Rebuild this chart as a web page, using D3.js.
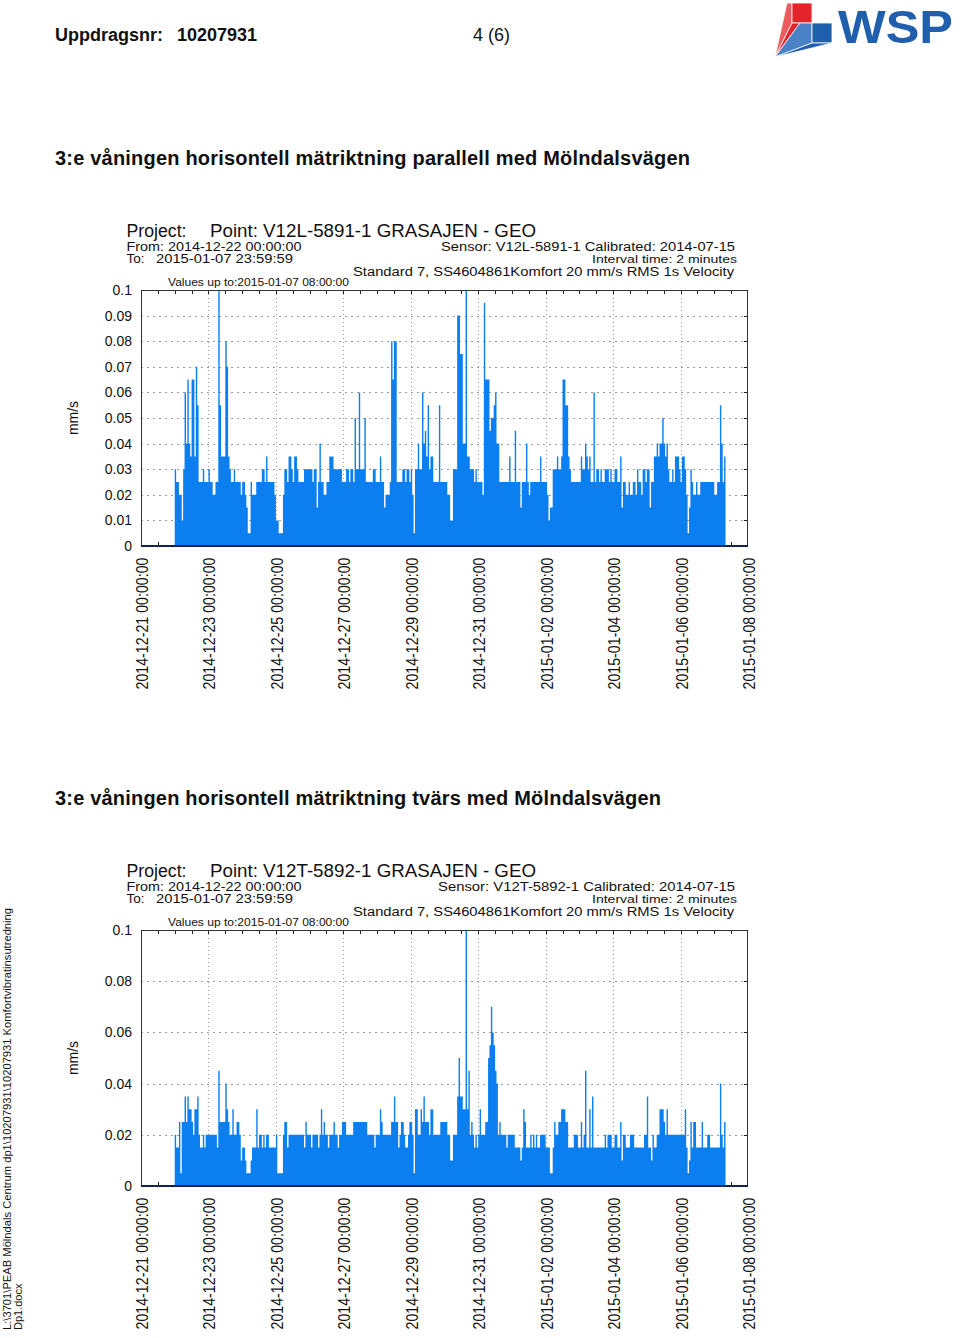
<!DOCTYPE html>
<html><head><meta charset="utf-8">
<script src="https://cdn.jsdelivr.net/npm/d3@7"></script>
<style>
body{margin:0;background:#fff}
svg text{font-family:"Liberation Sans",Arial,sans-serif;fill:#111}
</style>
</head><body>
<svg id="page" width="960" height="1338"></svg>
<script>
// ---------- data ----------
const tickDates = ["2014-12-21","2014-12-23","2014-12-25","2014-12-27","2014-12-29","2014-12-31","2015-01-02","2015-01-04","2015-01-06","2015-01-08"];
const yTicks1 = [0,0.01,0.02,0.03,0.04,0.05,0.06,0.07,0.08,0.09,0.1];
const yTickLabels1 = ["0","0.01","0.02","0.03","0.04","0.05","0.06","0.07","0.08","0.09","0.1"];
const yTicks2 = [0,0.02,0.04,0.06,0.08,0.1];
const yTickLabels2 = ["0","0.02","0.04","0.06","0.08","0.1"];
const dataStart = "2014-12-22T00:00:00Z"; // hourly maxima, mm/s

const velParallel = [
.03,.025,.025,.02,.02,.01,.03,.06,.04,.065,
.04,.035,.065,.065,.035,.07,.055,.025,.025,.025,
.03,.025,.025,.025,.03,.025,.025,.02,.02,.025,
.025,.1,.055,.035,.035,.035,.08,.07,.035,.03,
.025,.025,.03,.025,.025,.025,.025,.02,.025,.025,
.02,.015,.005,.005,.025,.02,.02,.02,.025,.025,
.025,.025,.03,.03,.025,.035,.025,.025,.025,.025,
.025,.02,.01,.01,.005,.005,.005,.02,.03,.03,
.025,.035,.035,.03,.025,.035,.035,.03,.025,.025,
.025,.025,.03,.03,.03,.03,.03,.03,.025,.03,
.03,.015,.025,.04,.025,.025,.02,.02,.025,.025,
.035,.035,.035,.03,.03,.03,.03,.03,.03,.025,
.025,.025,.03,.03,.025,.03,.03,.025,.05,.03,
.03,.06,.03,.03,.03,.05,.025,.025,.025,.025,
.025,.03,.03,.025,.025,.025,.035,.025,.025,.015,
.02,.02,.02,.025,.08,.065,.08,.08,.025,.025,
.025,.025,.03,.03,.025,.03,.03,.025,.03,.02,
.005,.03,.03,.04,.03,.03,.06,.04,.045,.035,
.055,.03,.035,.035,.025,.025,.025,.025,.055,.025,
.025,.025,.025,.025,.02,.02,.01,.01,.03,.03,
.03,.09,.09,.075,.075,.04,.04,.1,.035,.035,
.03,.03,.03,.025,.03,.025,.025,.025,.025,.02,
.095,.065,.065,.065,.045,.05,.05,.055,.06,.04,
.04,.025,.025,.025,.025,.025,.025,.025,.035,.025,
.025,.025,.045,.025,.025,.025,.015,.025,.025,.025,
.04,.025,.02,.025,.025,.025,.025,.025,.025,.025,
.035,.025,.025,.025,.025,.02,.01,.015,.015,.03,
.03,.03,.035,.03,.03,.035,.065,.065,.055,.055,
.035,.03,.025,.025,.025,.025,.025,.025,.025,.035,
.03,.03,.04,.035,.03,.035,.025,.025,.06,.025,
.03,.03,.025,.03,.025,.025,.03,.03,.03,.025,
.03,.025,.025,.03,.03,.025,.025,.035,.015,.025,
.025,.02,.02,.025,.02,.02,.025,.025,.02,.03,
.025,.025,.02,.03,.03,.025,.03,.03,.015,.025,
.025,.035,.035,.04,.035,.04,.04,.05,.04,.035,
.04,.03,.025,.025,.03,.025,.035,.035,.035,.03,
.025,.035,.035,.03,.02,.005,.015,.03,.025,.02,
.02,.025,.02,.02,.025,.025,.025,.025,.025,.025,
.025,.025,.025,.025,.02,.02,.025,.025,.055,.04,
.025,.035];

const velTransverse = [
.02,.015,.015,.025,.005,.025,.025,.035,.025,.035,
.03,.03,.025,.02,.03,.03,.035,.02,.015,.015,
.02,.015,.02,.02,.02,.02,.02,.02,.02,.02,
.015,.045,.025,.025,.025,.025,.04,.03,.025,.02,
.02,.03,.02,.02,.025,.025,.02,.01,.015,.015,
.01,.005,.005,.005,.01,.015,.015,.015,.03,.015,
.02,.02,.015,.02,.015,.02,.02,.015,.015,.015,
.015,.015,.02,.005,.005,.005,.005,.02,.025,.025,
.015,.02,.02,.02,.02,.02,.02,.02,.02,.02,
.02,.02,.015,.025,.02,.02,.02,.015,.02,.02,
.02,.02,.015,.02,.03,.02,.025,.02,.02,.015,
.02,.02,.02,.025,.02,.02,.015,.02,.02,.025,
.025,.025,.02,.02,.02,.02,.02,.025,.025,.025,
.025,.025,.025,.025,.025,.025,.025,.02,.02,.02,
.02,.02,.015,.02,.02,.02,.03,.025,.02,.02,
.02,.02,.02,.02,.025,.025,.035,.025,.025,.015,
.02,.025,.025,.02,.015,.015,.02,.025,.025,.02,
.005,.03,.03,.02,.02,.03,.025,.035,.025,.025,
.025,.02,.03,.03,.02,.02,.02,.02,.02,.025,
.025,.025,.025,.025,.02,.02,.01,.01,.02,.02,
.02,.035,.05,.035,.035,.03,.03,.1,.03,.045,
.02,.025,.02,.015,.02,.015,.02,.03,.02,.02,
.02,.025,.025,.05,.055,.07,.06,.055,.045,.04,
.02,.025,.02,.02,.02,.02,.015,.02,.02,.02,
.02,.02,.015,.015,.015,.015,.01,.015,.03,.025,
.015,.015,.015,.02,.015,.02,.015,.02,.015,.015,
.02,.02,.02,.02,.015,.015,.015,.005,.005,.015,
.025,.02,.02,.025,.025,.03,.03,.03,.025,.025,
.015,.015,.015,.015,.02,.02,.02,.015,.015,.025,
.015,.02,.045,.015,.015,.03,.015,.035,.015,.015,
.015,.015,.015,.015,.015,.015,.02,.015,.02,.02,
.02,.015,.015,.02,.02,.015,.015,.025,.01,.02,
.02,.015,.015,.015,.02,.02,.02,.015,.015,.015,
.015,.015,.015,.015,.02,.02,.035,.015,.015,.01,
.02,.015,.015,.02,.02,.03,.03,.03,.025,.02,
.03,.02,.02,.02,.02,.02,.02,.02,.02,.02,
.02,.02,.02,.03,.015,.005,.01,.025,.015,.025,
.025,.015,.015,.015,.015,.025,.015,.015,.015,.02,
.02,.015,.015,.015,.015,.015,.015,.015,.04,.02,
.015,.025];

// ---------- page ----------
const svg = d3.select("#page");
svg.append("rect").attr("width",960).attr("height",1338).attr("fill","#fff");

// header
svg.append("text").attr("x",55).attr("y",41).attr("font-size",18).attr("font-weight","bold").text("Uppdragsnr:");
svg.append("text").attr("x",177).attr("y",41).attr("font-size",18).attr("font-weight","bold").text("10207931");
svg.append("text").attr("x",473).attr("y",41).attr("font-size",18).text("4 (6)");

// WSP logo
const logo = svg.append("g");
const red = "#e3242b", red2 = "#ee5a5e", blue = "#1f5fae", blue2 = "#4a82c8";
[
  {p:[[775,57],[787,3],[792,3],[792,23]], c:red2},
  {p:[[792,3],[812,3],[812,23],[792,23]], c:red},
  {p:[[775,57],[792,23],[800,23]], c:red},
  {p:[[775,57],[800,23],[812,23],[812,43]], c:blue2},
  {p:[[812,23],[832,23],[832,43],[812,43]], c:blue},
  {p:[[775,57],[812,43],[832,43],[812,48]], c:blue}
].forEach(s=>{
  logo.append("polygon").attr("points",s.p.map(q=>q.join(",")).join(" "))
    .attr("fill",s.c).attr("stroke","#fff").attr("stroke-width",0.8);
});
logo.append("text").attr("x",838).attr("y",43).attr("font-size",47).attr("font-weight","bold")
  .attr("textLength",115).attr("lengthAdjust","spacingAndGlyphs").style("fill",blue).text("WSP");

// side text
svg.append("text").attr("transform","translate(11,1330) rotate(-90)").attr("font-size",11)
  .attr("textLength",422).attr("lengthAdjust","spacingAndGlyphs")
  .text("L:\\3701\\PEAB Mölndals Centrum dp1\\10207931\\10207931 Komfortvibratinsutredning");
svg.append("text").attr("transform","translate(22,1330) rotate(-90)").attr("font-size",11)
  .text("Dp1.docx");

// section titles
svg.append("text").attr("x",55).attr("y",165).attr("font-size",20).attr("font-weight","bold")
  .attr("textLength",635).text("3:e våningen horisontell mätriktning parallell med Mölndalsvägen");
svg.append("text").attr("x",55).attr("y",805).attr("font-size",20).attr("font-weight","bold")
  .attr("textLength",606).text("3:e våningen horisontell mätriktning tvärs med Mölndalsvägen");

// ---------- charts ----------
const parseDay = d3.utcParse("%Y-%m-%d");
const fmt = d3.utcFormat("%Y-%m-%d %H:%M:%S");
const ticks = tickDates.map(parseDay);
const t0 = new Date(dataStart);

function drawChart(oy, values, yT, yL, point, sensor, sensorStart){
  const g = svg.append("g").attr("transform",`translate(0,${oy})`);
  const L=141, R=748, T=290, B=546;
  const x = d3.scaleUtc().domain([ticks[0], ticks[ticks.length-1]]).range([L,R]);
  const y = d3.scaleLinear().domain([0,0.1]).range([B,T]);

  // header texts
  const txt = (xx,yy,fs,s,len,anchor)=>{
    const t=g.append("text").attr("x",xx).attr("y",yy).attr("font-size",fs).text(s);
    if(len) t.attr("textLength",len).attr("lengthAdjust","spacingAndGlyphs");
    if(anchor) t.attr("text-anchor",anchor);
    return t;
  };
  txt(126.5,237,18,"Project:",60);
  txt(210,237,18,point,326);
  txt(126.5,251,12.5,"From: 2014-12-22 00:00:00",175);
  txt(126.5,263,12.5,"To:",18);
  txt(156,263,12.5,"2015-01-07 23:59:59",137);
  txt(735,251,12.5,sensor,735-sensorStart,"end");
  txt(737,262.5,11.5,"Interval time: 2 minutes",145,"end");
  txt(353,275.5,12.5,"Standard 7, SS4604861Komfort 20 mm/s RMS 1s   Velocity",381);
  txt(168,285.5,11.5,"Values up to:2015-01-07 08:00:00",181);

  // grid
  const grid = g.append("g").attr("stroke","#9a9a9a").attr("stroke-width",1).attr("stroke-dasharray","2,4");
  yT.forEach(v=>{ if(v>0 && v<0.1) grid.append("line").attr("x1",L).attr("x2",R).attr("y1",Math.round(y(v))+0.5).attr("y2",Math.round(y(v))+0.5); });
  ticks.forEach(d=>{ const xx=Math.round(x(d))+0.5; if(xx>L+1 && xx<R-1) grid.append("line").attr("x1",xx).attr("x2",xx).attr("y1",T).attr("y2",B).attr("stroke-dasharray","1,3"); });

  // minor ticks (12 h)
  const minor = d3.utcHour.every(12).range(ticks[0], ticks[ticks.length-1]);
  const tk = g.append("g").attr("stroke","#222").attr("stroke-width",1);
  minor.forEach(d=>{ const xx=Math.round(x(d))+0.5;
    tk.append("line").attr("x1",xx).attr("x2",xx).attr("y1",T).attr("y2",T+4);
    tk.append("line").attr("x1",xx).attr("x2",xx).attr("y1",B).attr("y2",B-4);
  });
  yT.forEach(v=>{ const yy=Math.round(y(v))+0.5; tk.append("line").attr("x1",R).attr("x2",R-4).attr("y1",yy).attr("y2",yy); });

  // bars (hourly step area)
  const pts = values.map((v,i)=>({t:d3.utcHour.offset(t0,i), v}));
  pts.push({t:d3.utcHour.offset(t0,values.length), v:values[values.length-1]});
  const area = d3.area().x(d=>x(d.t)).y0(y(0)).y1(d=>y(d.v)).curve(d3.curveStepAfter);
  g.append("path").datum(pts).attr("d",area).attr("fill","#0b7ff0");

  // frame
  g.append("path").attr("d",`M${L+0.5},${B}V${T+0.5}H${R-0.5}V${B}`).attr("fill","none").attr("stroke","#333").attr("stroke-width",1);
  g.append("line").attr("x1",L).attr("x2",R).attr("y1",B).attr("y2",B).attr("stroke","#14244a").attr("stroke-width",2);

  // y labels
  yT.forEach((v,i)=>{
    g.append("text").attr("x",132).attr("y",y(v)).attr("dy","0.36em").attr("text-anchor","end").attr("font-size",14).text(yL[i]);
  });
  g.append("text").attr("transform",`translate(78,418) rotate(-90)`).attr("text-anchor","middle").attr("font-size",14).text("mm/s");

  // x labels
  ticks.forEach(d=>{
    g.append("text").attr("transform",`translate(${x(d)+7},${B+11.5}) rotate(-90)`)
      .attr("text-anchor","end").attr("font-size",16)
      .attr("textLength",132).attr("lengthAdjust","spacingAndGlyphs").text(fmt(d));
  });
}

drawChart(0, velParallel, yTicks1, yTickLabels1, "Point: V12L-5891-1 GRASAJEN - GEO", "Sensor: V12L-5891-1  Calibrated: 2014-07-15", 441);
drawChart(640, velTransverse, yTicks2, yTickLabels2, "Point: V12T-5892-1 GRASAJEN - GEO", "Sensor: V12T-5892-1  Calibrated: 2014-07-15", 438);
</script>
</body></html>
